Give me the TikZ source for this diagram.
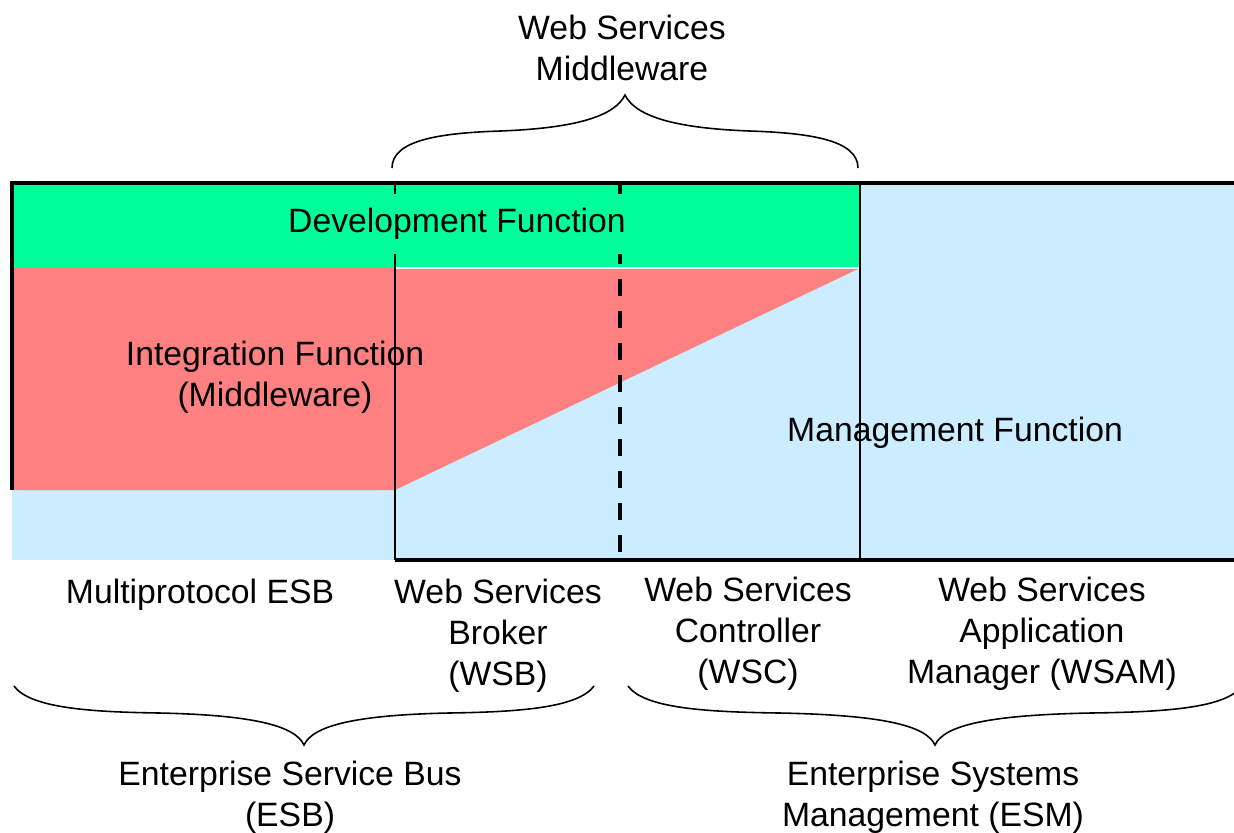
\documentclass[tikz,border=0pt]{standalone}
\usepackage{fontspec}
\setmainfont{Liberation Sans}
\definecolor{devgreen}{RGB}{0,255,153}
\definecolor{intred}{RGB}{255,128,128}
\definecolor{mgmtblue}{RGB}{204,236,255}
\tikzset{
  lbl/.style={align=center, font=\fontsize{9.6pt}{11.7pt}\selectfont, inner sep=0pt},
  brc/.style={line width=0.45pt},
}
\begin{document}
\begin{tikzpicture}[x=0.1mm, y=-0.1mm]
        \useasboundingbox (0, 0) rectangle (1234, 832);
        % the three bands
        \fill[mgmtblue] (12, 183) rectangle (1234, 560);
        \fill[devgreen] (12, 183) rectangle (860, 268);
        \fill[intred]   (12, 268) -- (860, 268) -- (395, 490) -- (12, 490) -- cycle;
        \draw[white, line width=0.3pt] (395, 268) -- (860, 268);
        % frame and dividers
        \draw[line width=1pt] (12, 490) -- (12, 183) -- (1234, 183);
        \draw[line width=1pt] (395, 560) -- (1234, 560);
        \draw[line width=0.45pt] (395, 183) -- (395, 560);
        \draw[line width=0.6pt]  (860, 183) -- (860, 560);
        \draw[line width=1.05pt, dash pattern=on 1.7mm off 1.5mm] (620, 183) -- (620, 560);
        % labels inside
        \node[lbl, fill=devgreen, minimum height=6mm, inner xsep=0.4mm] (dev) at (457, 224) {Development Function};
        \node[lbl] (integ) at (275, 377) {Integration Function\\(Middleware)};
        \node[lbl] (mgmt)  at (955, 433) {Management Function};
        % labels underneath
        \node[lbl, anchor=north] (esbmp) at (200, 578) {Multiprotocol ESB};
        \node[lbl, anchor=north] (wsb)   at (498, 578) {Web Services\\Broker\\(WSB)};
        \node[lbl, anchor=north] (wsc)   at (748, 576) {Web Services\\Controller\\(WSC)};
        \node[lbl, anchor=north] (wsam)  at (1042, 576) {Web Services\\Application\\Manager (WSAM)};
        % braces
        \draw[brc] (392, 168) .. controls (392, 140) and (440, 133) .. (500, 131)
                   .. controls (580, 128) and (615, 115) .. (625, 95)
                   .. controls (635, 115) and (670, 128) .. (750, 131)
                   .. controls (810, 133) and (858, 140) .. (858, 168);
        \node[lbl, anchor=south] (wsm) at (622, 82) {Web Services\\Middleware};
        \draw[brc] (14, 686) .. controls (30, 708) and (90, 712) .. (160, 713)
                   .. controls (250, 715) and (295, 725) .. (304, 745)
                   .. controls (313, 725) and (358, 715) .. (448, 713)
                   .. controls (518, 712) and (578, 708) .. (594, 686);
        \node[lbl, anchor=north] (esb) at (290, 760) {Enterprise Service Bus\\(ESB)};
        \draw[brc] (628, 686) .. controls (644, 708) and (704, 712) .. (780, 713)
                   .. controls (880, 715) and (926, 725) .. (935, 745)
                   .. controls (944, 725) and (990, 715) .. (1090, 713)
                   .. controls (1166, 712) and (1226, 708) .. (1242, 686);
        \node[lbl, anchor=north] (esm) at (933, 760) {Enterprise Systems\\Management (ESM)};
\end{tikzpicture}
\end{document}
